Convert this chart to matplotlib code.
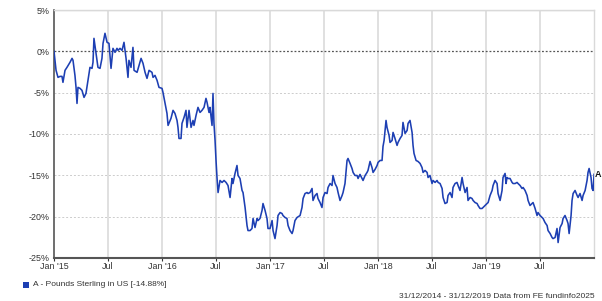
import matplotlib
matplotlib.use("Agg")
import matplotlib.pyplot as plt
import pandas as pd
import numpy as np

plt.rcParams['font.family'] = ['Liberation Sans', 'DejaVu Sans']

# fraction of years elapsed since 31/12/2014
t_years = [0.000, 0.019, 0.037, 0.056, 0.074, 0.083, 0.102, 0.120, 0.148, 0.167, 0.176, 0.194,
           0.204, 0.213, 0.222, 0.241, 0.259, 0.278, 0.296, 0.315, 0.333, 0.352, 0.361, 0.370,
           0.389, 0.407, 0.426, 0.444, 0.454, 0.472, 0.491, 0.509, 0.528, 0.546, 0.565, 0.583,
           0.593, 0.611, 0.630, 0.648, 0.667, 0.685, 0.694, 0.713, 0.731, 0.741, 0.769, 0.787,
           0.806, 0.824, 0.843, 0.861, 0.880, 0.907, 0.917, 0.935, 0.954, 0.972, 1.000, 1.009,
           1.028, 1.046, 1.056, 1.083, 1.102, 1.120, 1.139, 1.148, 1.157, 1.176, 1.185, 1.204,
           1.222, 1.231, 1.250, 1.269, 1.287, 1.296, 1.315, 1.333, 1.352, 1.370, 1.389, 1.407,
           1.417, 1.435, 1.444, 1.463, 1.472, 1.481, 1.491, 1.500, 1.509, 1.519, 1.537, 1.556,
           1.574, 1.593, 1.611, 1.630, 1.648, 1.657, 1.676, 1.694, 1.704, 1.722, 1.741, 1.750,
           1.769, 1.787, 1.796, 1.815, 1.833, 1.843, 1.861, 1.880, 1.889, 1.907, 1.926, 1.935,
           1.954, 1.972, 1.981, 2.000, 2.019, 2.028, 2.046, 2.065, 2.074, 2.093, 2.111, 2.120,
           2.139, 2.157, 2.167, 2.185, 2.204, 2.213, 2.231, 2.250, 2.278, 2.296, 2.306, 2.324,
           2.343, 2.352, 2.370, 2.389, 2.398, 2.417, 2.435, 2.444, 2.463, 2.481, 2.491, 2.509,
           2.528, 2.537, 2.556, 2.574, 2.583, 2.602, 2.620, 2.630, 2.648, 2.667, 2.676, 2.694,
           2.713, 2.722, 2.741, 2.759, 2.769, 2.787, 2.806, 2.815, 2.833, 2.852, 2.861, 2.880,
           2.898, 2.907, 2.926, 2.944, 2.954, 2.972, 2.991, 3.000, 3.019, 3.037, 3.046, 3.056,
           3.074, 3.083, 3.102, 3.111, 3.130, 3.139, 3.157, 3.176, 3.185, 3.204, 3.222, 3.231,
           3.250, 3.269, 3.278, 3.296, 3.315, 3.324, 3.333, 3.352, 3.370, 3.389, 3.407, 3.417,
           3.435, 3.454, 3.463, 3.481, 3.500, 3.509, 3.528, 3.546, 3.556, 3.574, 3.593, 3.602,
           3.620, 3.639, 3.648, 3.667, 3.685, 3.694, 3.713, 3.731, 3.741, 3.759, 3.778, 3.787,
           3.806, 3.824, 3.833, 3.852, 3.870, 3.880, 3.898, 3.917, 3.926, 3.944, 3.963, 3.972,
           3.991, 4.009, 4.019, 4.037, 4.056, 4.065, 4.083, 4.102, 4.111, 4.130, 4.148, 4.157,
           4.176, 4.185, 4.194, 4.204, 4.222, 4.241, 4.250, 4.269, 4.287, 4.296, 4.315, 4.333,
           4.343, 4.361, 4.380, 4.389, 4.407, 4.426, 4.435, 4.454, 4.472, 4.481, 4.500, 4.519,
           4.528, 4.546, 4.565, 4.574, 4.593, 4.611, 4.620, 4.639, 4.657, 4.667, 4.685, 4.704,
           4.713, 4.731, 4.750, 4.759, 4.769, 4.787, 4.796, 4.806, 4.824, 4.843, 4.852, 4.870,
           4.889, 4.898, 4.917, 4.935, 4.944, 4.954, 4.972, 4.981, 4.991, 5.000]

# cumulative performance, %
perf_pct = [0.00, -2.30, -3.15, -3.03, -3.03, -3.75, -2.30, -1.94, -1.33, -0.85, -1.09, -2.91,
            -4.36, -6.30, -4.36, -4.48, -4.72, -5.57, -5.09, -3.51, -1.94, -2.06, -1.33, 1.57,
            -0.24, -1.94, -2.06, -0.85, 0.97, 2.18, 1.09, 0.97, -2.06, 0.36, -0.12, 0.36,
            0.12, 0.36, 0.12, 1.09, -0.85, -3.15, -1.09, -1.94, 0.48, -2.30, -2.54, -1.70,
            -0.85, -1.45, -2.54, -3.27, -2.30, -2.54, -3.15, -2.91, -3.51, -4.36, -4.48, -4.97,
            -6.30, -7.51, -8.96, -8.11, -7.14, -7.51, -8.36, -9.20, -10.54, -10.54, -8.72, -7.99,
            -7.14, -9.20, -7.14, -9.20, -8.36, -8.96, -7.75, -6.78, -7.39, -7.14, -6.78, -5.69,
            -6.18, -7.39, -6.78, -8.96, -5.09, -8.72, -10.78, -13.20, -15.26, -17.08, -15.62, -15.86,
            -15.62, -15.86, -16.23, -17.68, -15.38, -15.99, -14.77, -13.81, -15.02, -15.38, -16.83, -17.08,
            -18.89, -21.07, -21.68, -21.68, -21.43, -20.22, -21.31, -20.22, -20.47, -20.22, -19.25, -18.41,
            -19.25, -20.22, -21.43, -21.43, -20.47, -21.68, -22.65, -21.07, -19.86, -19.50, -19.62, -19.86,
            -20.10, -20.22, -21.07, -21.68, -22.04, -21.68, -20.47, -20.10, -19.86, -18.89, -17.80, -17.20,
            -17.08, -17.20, -17.08, -16.59, -18.04, -17.44, -17.20, -17.80, -18.29, -18.89, -17.68, -17.08,
            -17.20, -16.47, -15.99, -16.23, -15.02, -15.99, -16.47, -17.08, -18.04, -17.44, -17.08, -15.99,
            -13.20, -12.96, -13.56, -14.17, -14.65, -15.02, -15.02, -15.38, -14.89, -15.38, -15.62, -15.02,
            -14.65, -14.41, -13.32, -14.05, -14.65, -14.29, -13.81, -13.44, -13.20, -13.20, -11.50, -10.78,
            -8.36, -9.20, -10.17, -11.02, -10.78, -9.81, -10.54, -11.38, -11.02, -10.54, -10.17, -8.60,
            -9.93, -9.57, -8.72, -8.36, -9.81, -11.38, -12.35, -13.20, -13.32, -13.56, -14.05, -14.65,
            -14.41, -14.65, -15.26, -15.02, -15.99, -15.62, -15.86, -15.62, -15.86, -15.99, -16.59, -17.68,
            -18.41, -18.29, -17.44, -17.08, -17.68, -16.47, -15.99, -15.86, -16.23, -16.83, -15.26, -15.99,
            -17.08, -16.47, -18.04, -17.68, -17.80, -18.04, -18.29, -18.41, -18.65, -19.01, -19.01, -18.89,
            -18.65, -18.41, -18.29, -17.44, -16.83, -16.23, -15.62, -15.99, -17.20, -18.04, -16.83, -15.26,
            -14.77, -15.99, -15.26, -15.38, -15.38, -15.86, -15.99, -15.99, -15.86, -15.99, -16.23, -16.59,
            -16.47, -16.83, -17.44, -18.04, -18.65, -18.41, -18.29, -19.01, -19.86, -19.50, -19.86, -20.10,
            -20.22, -20.71, -21.07, -21.68, -22.04, -22.52, -22.65, -22.52, -21.43, -23.13, -21.31, -20.83,
            -20.22, -19.86, -20.47, -20.83, -22.04, -19.86, -18.04, -17.20, -16.83, -17.44, -17.68, -17.20,
            -18.04, -17.44, -16.83, -15.62, -14.65, -14.17, -15.26, -16.59, -16.83, -14.88]

series_label = "A - Pounds Sterling in US [-14.88%]"
period_text = "31/12/2014 - 31/12/2019 Data from FE fundinfo2025"
start_date = "2014-12-31"
end_date = "2019-12-31"
y_ticks = [5, 0, -5, -10, -15, -20, -25]
x_tick_dates = ["2015-01-01", "2015-07-01", "2016-01-01", "2016-07-01", "2017-01-01",
                "2017-07-01", "2018-01-01", "2018-07-01", "2019-01-01", "2019-07-01"]
x_tick_labels = ["Jan '15", "Jul", "Jan '16", "Jul", "Jan '17", "Jul", "Jan '18", "Jul", "Jan '19", "Jul"]

dates = pd.Timestamp(start_date) + pd.to_timedelta(np.array(t_years) * 365.25, unit="D")

W, H = 602, 301
fig = plt.figure(figsize=(W / 100, H / 100), dpi=100)
ax = fig.add_axes([54 / W, 1 - 258 / H, (594 - 54) / W, (258 - 10) / H])

line_color = "#1d3fb3"
ax.plot(dates, perf_pct, color=line_color, lw=1.15, zorder=3)

ax.set_xlim(pd.Timestamp(start_date), pd.Timestamp(end_date))
ax.set_ylim(-25, 5)

# grids
for yv in y_ticks:
    if yv == 0:
        ax.axhline(0, color="#555555", lw=0.9, ls=(0, (1.5, 1.5)), zorder=2)
    elif yv == 5:
        ax.axhline(yv, color="#d9d9d9", lw=1.0, zorder=1)
    elif yv != -25:
        ax.axhline(yv, color="#cccccc", lw=0.7, ls=(0, (2, 2)), zorder=1)
xt = pd.to_datetime(x_tick_dates)
for d in xt[1:]:
    ax.axvline(d, color="#dddddd", lw=1.3, zorder=1)

ax.set_yticks(y_ticks)
ax.set_yticklabels([f"{v}%" for v in y_ticks])
ax.set_xticks(xt)
ax.set_xticklabels(x_tick_labels)
ax.tick_params(axis="both", labelsize=6.4, colors="#333333", length=2, width=0.8, pad=1)
ax.tick_params(axis="y", length=0, pad=3)

for s in ("top", "right"):
    ax.spines[s].set_color("#d9d9d9")
    ax.spines[s].set_linewidth(1.0)
ax.spines["left"].set_color("#555555")
ax.spines["left"].set_linewidth(1.2)
ax.spines["bottom"].set_color("#555555")
ax.spines["bottom"].set_linewidth(1.5)

# end label
ax.annotate("A", xy=(dates[-1], perf_pct[-1]), xytext=(0.8, 0), textcoords="offset points",
            fontsize=6.5, fontweight="bold", color="#111111", va="center", ha="left",
            annotation_clip=False)

# legend
fig.patches.append(plt.Rectangle((23 / W, 1 - 288 / H), 6 / W, 6 / H, transform=fig.transFigure,
                                 facecolor=line_color, edgecolor="none"))
fig.text(33 / W, 1 - 285 / H, series_label, fontsize=6.0, color="#333333", va="center", ha="left")
fig.text(595 / W, 1 - 296 / H, period_text, fontsize=6.0, color="#333333", va="center", ha="right")

fig.savefig("out.png", dpi=100)
